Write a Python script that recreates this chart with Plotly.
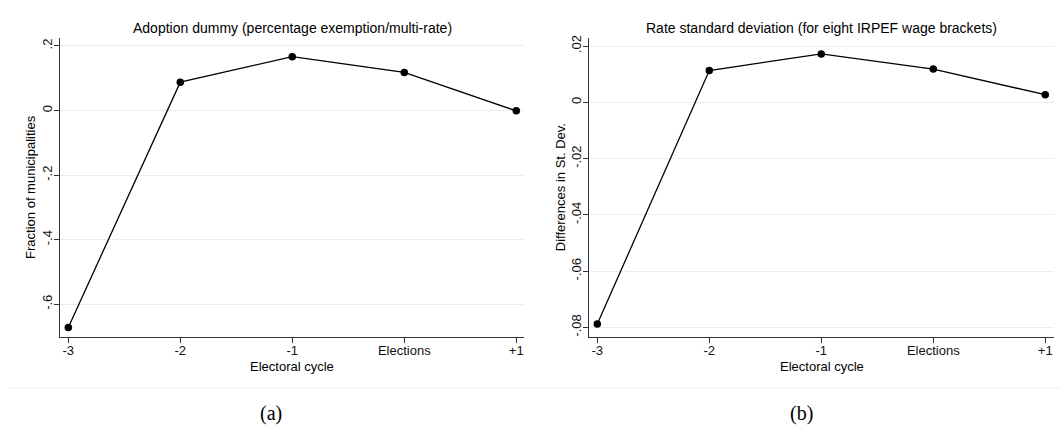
import plotly.graph_objects as go

# Electoral-cycle categories shared by both panels
categories = ["-3", "-2", "-1", "Elections", "+1"]

# Panel (a): adoption dummy, fraction of municipalities
adoption = [-0.672, 0.088, 0.167, 0.118, -0.001]
adoption_ticks = [0.2, 0.0, -0.2, -0.4, -0.6]
adoption_ticktext = [".2", "0", "-.2", "-.4", "-.6"]

# Panel (b): rate standard deviation across eight IRPEF brackets
rate_sd = [-0.0788, 0.0113, 0.0172, 0.0118, 0.0027]
rate_ticks = [0.02, 0.0, -0.02, -0.04, -0.06, -0.08]
rate_ticktext = [".02", "0", "-.02", "-.04", "-.06", "-.08"]

W, H = 1061, 433
FONT = "Liberation Sans, Arial, Helvetica, sans-serif"
GRID = "#e6eff0"
AXIS = "#333333"

def px_x(v):
    return v / W

def px_y(v):
    return 1 - v / H

fig = go.Figure()

line_style = dict(color="black", width=1.3)
marker_style = dict(color="black", size=7.5, symbol="circle")

fig.add_trace(go.Scatter(x=categories, y=adoption, mode="lines+markers",
                         line=line_style, marker=marker_style,
                         xaxis="x", yaxis="y", showlegend=False))
fig.add_trace(go.Scatter(x=categories, y=rate_sd, mode="lines+markers",
                         line=line_style, marker=marker_style,
                         xaxis="x2", yaxis="y2", showlegend=False))

top, bottom = 35, 336
ydom = [px_y(bottom), px_y(top)]

common_x = dict(
    type="category", showline=True, linecolor=AXIS, linewidth=1,
    ticks="outside", ticklen=5, tickcolor=AXIS, tickwidth=1,
    showgrid=False, zeroline=False, ticklabelstandoff=-3,
    tickfont=dict(family=FONT, size=13, color="#111111"),
)
common_y = dict(
    showline=True, linecolor=AXIS, linewidth=1,
    ticks="outside", ticklen=5, tickcolor=AXIS, tickwidth=1,
    showgrid=True, gridcolor=GRID, gridwidth=1,
    zeroline=True, zerolinecolor=GRID, zerolinewidth=1,
    tickangle=-90, tickmode="array", ticklabelstandoff=-3,
    tickfont=dict(family=FONT, size=13, color="#111111"),
)

fig.update_layout(
    width=W, height=H,
    margin=dict(l=0, r=0, t=0, b=0),
    paper_bgcolor="white", plot_bgcolor="white",
    xaxis=dict(common_x, domain=[px_x(60.3), px_x(524)], range=[-0.0714, 4.069],
               anchor="y"),
    yaxis=dict(common_y, domain=ydom, range=[-0.7006, 0.2255],
               tickvals=adoption_ticks, ticktext=adoption_ticktext, anchor="x"),
    xaxis2=dict(common_x, domain=[px_x(589.3), px_x(1054)], range=[-0.0714, 4.078],
                anchor="y2"),
    yaxis2=dict(common_y, domain=ydom, range=[-0.0833, 0.02294],
                tickvals=rate_ticks, ticktext=rate_ticktext, anchor="x2"),
)

def text(x, y, s, size=13, angle=0, family=FONT):
    fig.add_annotation(x=px_x(x), y=px_y(y), xref="paper", yref="paper",
                       text=s, showarrow=False, textangle=angle,
                       xanchor="center", yanchor="middle",
                       font=dict(family=family, size=size, color="black"))

# Panel titles
text(292, 25, "Adoption dummy (percentage exemption/multi-rate)", size=14)
text(821.7, 25, "Rate standard deviation (for eight IRPEF wage brackets)", size=14)

# Axis titles
text(292, 366, "Electoral cycle")
text(821.7, 366, "Electoral cycle")
text(30.7, 185.5, "Fraction of municipalities", angle=-90)
text(560, 185.5, "Differences in St. Dev.", angle=-90)

# Sub-figure captions
SERIF = "Liberation Serif, DejaVu Serif, serif"
text(271, 413, "(a)", size=20, family=SERIF)
text(801, 413, "(b)", size=20, family=SERIF)

# Faint rule separating the charts from the captions
fig.add_shape(type="line", xref="paper", yref="paper",
              x0=px_x(8), x1=1, y0=px_y(388), y1=px_y(388),
              line=dict(color="#f0f0f0", width=1))

fig.write_html("out.html")
